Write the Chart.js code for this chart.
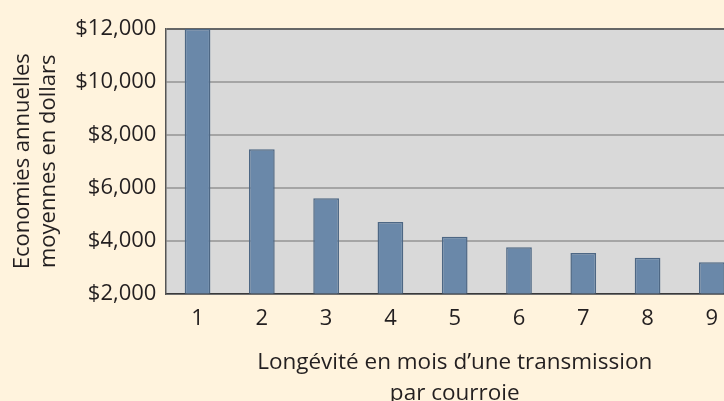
<!DOCTYPE html>
<html>
<head>
<meta charset="utf-8">
<script src="https://cdn.jsdelivr.net/npm/chart.js@4/dist/chart.umd.min.js"></script>
<style>
  html, body { margin: 0; padding: 0; background: #FFF3DD; overflow: hidden; width: 724px; height: 401px; }
  canvas { display: block; }
</style>
</head>
<body>
<canvas id="c" width="752" height="410"></canvas>
<script>
const categories = ['1', '2', '3', '4', '5', '6', '7', '8', '9'];
const savings = [12000, 7450, 5600, 4700, 4150, 3750, 3530, 3350, 3180];
const yTicks = [2000, 4000, 6000, 8000, 10000, 12000];
const yTitle = ['Economies annuelles', 'moyennes en dollars'];
const xTitle = ['Longévité en mois d’une transmission', 'par courroie'];

const FONT = '"Open Sans", "Noto Sans", sans-serif';
const TEXT = '#231F20';

const plotBg = {
  id: 'plotBg',
  beforeDraw(chart) {
    const a = chart.chartArea, ctx = chart.ctx;
    ctx.save();
    ctx.fillStyle = '#D9D9D9';
    ctx.fillRect(a.left, a.top, a.right - a.left, a.bottom - a.top);
    ctx.restore();
  }
};

new Chart(document.getElementById('c'), {
  type: 'bar',
  data: {
    labels: categories,
    datasets: [{
      data: savings,
      backgroundColor: '#6A88A9',
      borderColor: '#4D6784',
      borderWidth: 1.5,
      barPercentage: 0.8,
      categoryPercentage: 0.5
    }]
  },
  options: {
    responsive: false,
    animation: false,
    layout: { padding: { top: 29, right: 8, bottom: 0, left: 4 } },
    plugins: { legend: { display: false }, tooltip: { enabled: false } },
    scales: {
      x: {
        grid: { display: false, drawTicks: false },
        border: { display: true, color: '#3A3A3A', width: 1.5 },
        ticks: { color: TEXT, font: { family: FONT, size: 22 }, padding: 12, maxRotation: 0 },
        title: {
          display: true, text: xTitle, color: TEXT,
          font: { family: FONT, size: 22.5, lineHeight: 1.38 },
          padding: { top: 3, bottom: 1 }
        }
      },
      y: {
        min: 2000, max: 12000,
        afterBuildTicks(scale) { scale.ticks = yTicks.map(v => ({ value: v })); },
        grid: {
          drawTicks: false,
          color: ctx => (ctx.tick && ctx.tick.value === 12000) ? '#666666' : '#A5A5A5',
          lineWidth: 2
        },
        border: { display: true, color: '#555555', width: 1.5 },
        ticks: {
          color: TEXT, font: { family: FONT, size: 22 }, padding: 9,
          callback: v => '$' + v.toLocaleString('en-US')
        },
        title: {
          display: true, text: yTitle, color: TEXT,
          font: { family: FONT, size: 22, lineHeight: 1.21 },
          padding: { top: 5, bottom: 4 }
        }
      }
    }
  },
  plugins: [plotBg]
});
</script>
</body>
</html>
